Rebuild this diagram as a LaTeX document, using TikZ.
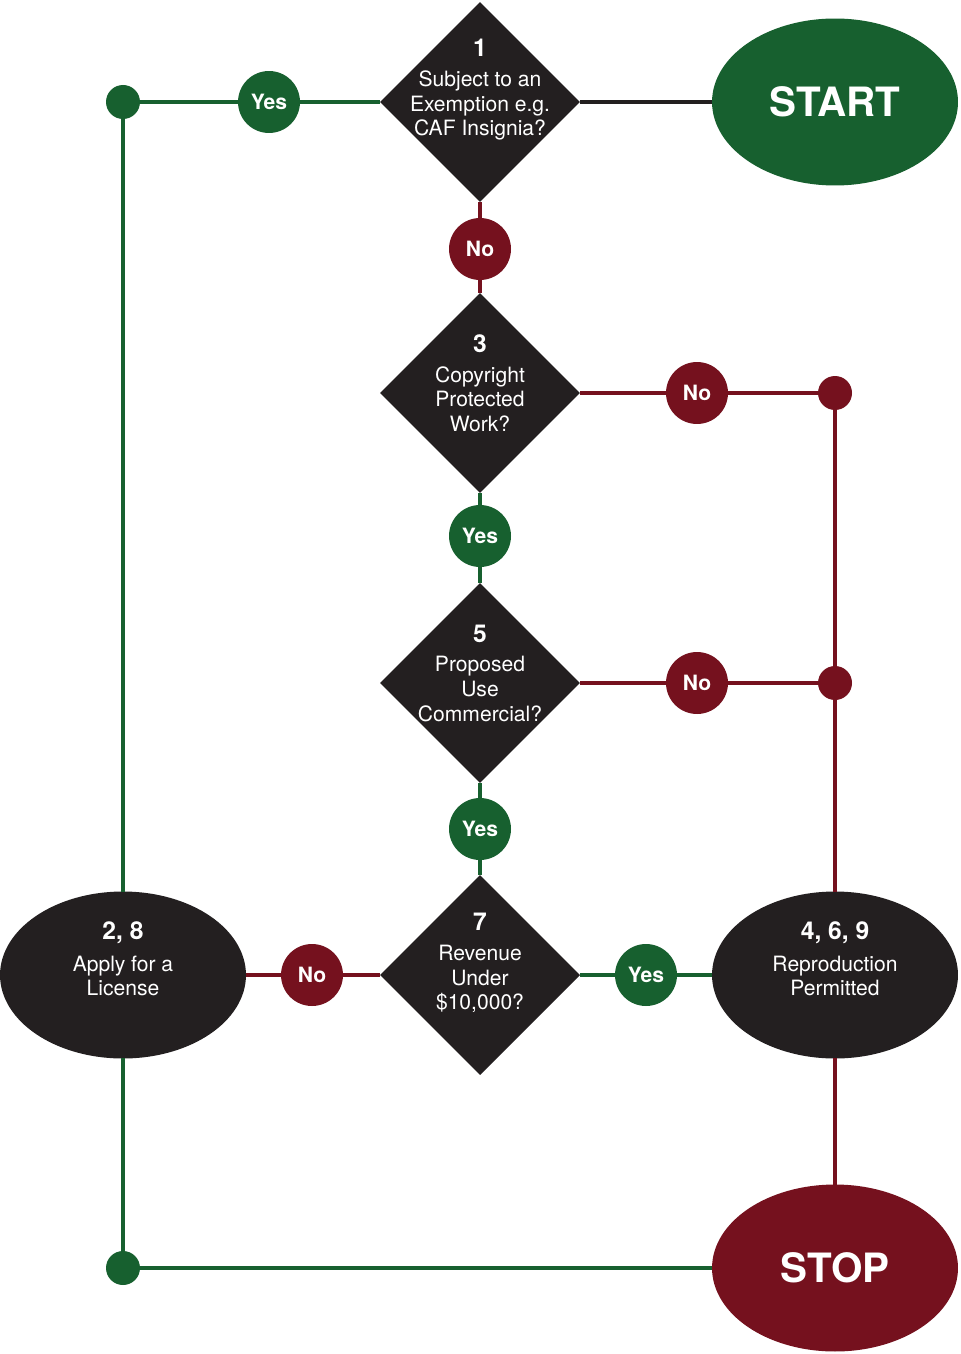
\documentclass[tikz,border=0pt]{standalone}
\usepackage{fontspec}
\setmainfont{TeX Gyre Heros}
\usetikzlibrary{shapes.geometric}
\definecolor{okgreen}{HTML}{17602F}
\definecolor{nored}{HTML}{75111E}
\definecolor{ink}{HTML}{231F20}
\newcommand{\qnum}[1]{{\bfseries\fontsize{14}{16}\selectfont #1}}
\begin{document}
\begin{tikzpicture}[
    x=0.02cm, y=-0.02cm,
    decision/.style={diamond, fill=ink, minimum width=4cm, minimum height=4cm,
                     inner sep=0pt, outer sep=0pt},
    outcome/.style={ellipse, fill=ink, minimum width=4.92cm, minimum height=3.34cm,
                    inner sep=0pt, outer sep=0pt},
    terminal/.style={ellipse, minimum width=4.92cm, minimum height=3.34cm,
                     inner sep=0pt, outer sep=0pt, text=white,
                     font=\bfseries\fontsize{23}{26}\selectfont},
    qtext/.style={text=white, align=center, inner sep=0pt,
                  font=\fontsize{12}{14}\selectfont},
    answer/.style={circle, minimum size=1.24cm, inner sep=0pt, outer sep=0pt,
                   text=white, font=\bfseries\fontsize{12}{14}\selectfont},
    yesbox/.style={answer, fill=okgreen},
    nobox/.style={answer, fill=nored},
    joint/.style={circle, minimum size=0.68cm, inner sep=0pt, outer sep=0pt},
    wire/.style={line width=2.8pt},
  ]
    \fill[white] (0,0) rectangle (960,1354);
    \useasboundingbox (0,0) rectangle (960,1354);

    % questions
    \node[decision, label={[qtext, yshift=0.24cm]center:{\qnum{1}\\[3pt]
      Subject to an\\Exemption e.g.\\CAF Insignia?}}] (q1) at (480,102) {};
    \node[decision, label={[qtext, yshift=0.2cm]center:{\qnum{3}\\[3pt]
      Copyright\\Protected\\Work?}}] (q3) at (480,393) {};
    \node[decision, label={[qtext, yshift=0.2cm]center:{\qnum{5}\\[3pt]
      Proposed\\Use\\Commercial?}}] (q5) at (480,683) {};
    \node[decision, label={[qtext, yshift=0.24cm]center:{\qnum{7}\\[3pt]
      Revenue\\Under\\\$10,000?}}] (q7) at (480,975) {};

    % ends and outcomes
    \node[terminal, fill=okgreen] (start) at (835,102) {START};
    \node[terminal, fill=nored]   (stop)  at (835,1268) {STOP};
    \node[outcome, label={[qtext, yshift=0.32cm]center:{\qnum{4, 6, 9}\\[4pt]
      Reproduction\\Permitted}}] (permit) at (835,975) {};
    \node[outcome, label={[qtext, yshift=0.32cm]center:{\qnum{2, 8}\\[4pt]
      Apply for a\\License}}] (license) at (123,975) {};

    % answers
    \node[yesbox] (yes1) at (269,102) {Yes};
    \node[nobox]  (no1)  at (480,249) {No};
    \node[nobox]  (no3)  at (697,393) {No};
    \node[yesbox] (yes3) at (480,536) {Yes};
    \node[nobox]  (no5)  at (697,683) {No};
    \node[yesbox] (yes5) at (480,829) {Yes};
    \node[nobox]  (no7)  at (312,975) {No};
    \node[yesbox] (yes7) at (646,975) {Yes};

    % joints
    \node[joint, fill=okgreen] (dotTL) at (123,102) {};
    \node[joint, fill=okgreen] (dotBL) at (123,1268) {};
    \node[joint, fill=nored]   (dotR3) at (835,393) {};
    \node[joint, fill=nored]   (dotR5) at (835,683) {};

    % connectors
    \draw[wire, ink] (q1) -- (start);
    \draw[wire, okgreen] (dotTL) -- (yes1) -- (q1);
    \draw[wire, nored] (q1) -- (no1) -- (q3);
    \draw[wire, nored] (q3) -- (no3) -- (dotR3);
    \draw[wire, okgreen] (q3) -- (yes3) -- (q5);
    \draw[wire, nored] (q5) -- (no5) -- (dotR5);
    \draw[wire, okgreen] (q5) -- (yes5) -- (q7);
    \draw[wire, nored] (q7) -- (no7) -- (license);
    \draw[wire, okgreen] (q7) -- (yes7) -- (permit);
    \draw[wire, nored] (dotR3) -- (dotR5) -- (permit);
    \draw[wire, nored] (permit) -- (stop);
    \draw[wire, okgreen] (dotTL) -- (license);
    \draw[wire, okgreen] (license) -- (dotBL) -- (stop);
  \end{tikzpicture}
\end{document}
